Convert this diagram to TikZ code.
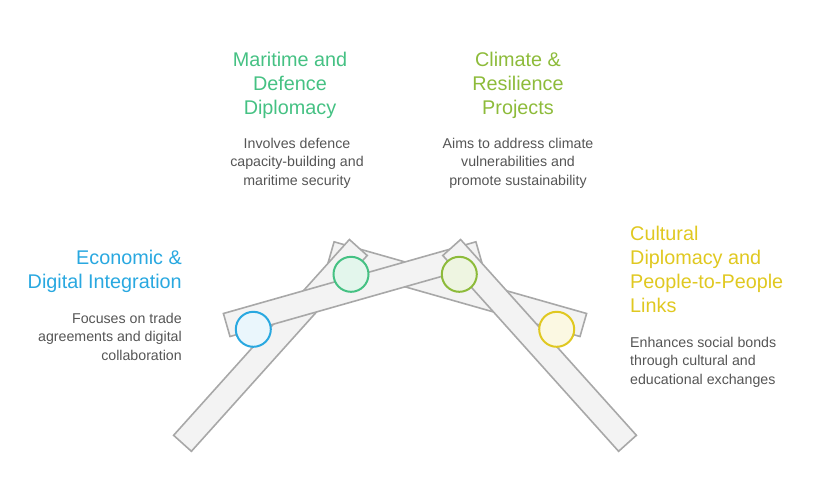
\documentclass[tikz,border=0pt]{standalone}
\usepackage{fontspec}
\setmainfont{Liberation Sans}
\begin{document}
\begin{tikzpicture}[x=1pt,y=-1pt,
  bar/.style={draw=barline,fill=barfill,line width=1.6pt,line join=miter},
  dot/.style={circle,minimum size=35pt,inner sep=0pt,line width=2pt},
  ttl/.style={font=\fontsize{19.8}{24}\selectfont,inner sep=0pt},
  bdy/.style={font=\fontsize{14.2}{18.3}\selectfont,text=bodygray,inner sep=0pt}]
\definecolor{barline}{HTML}{A8A8A8}
\definecolor{barfill}{HTML}{F3F3F3}
\definecolor{bodygray}{HTML}{555555}
\definecolor{cblue}{HTML}{29A8E0}
\definecolor{cgreen}{HTML}{45C183}
\definecolor{clime}{HTML}{8DBB3A}
\definecolor{cyellow}{HTML}{E0C820}
\useasboundingbox (0,0) rectangle (814,499);
% bars: B, A, C, D (back to front)
\draw[bar] (334.1,241.8) -- (327.5,264.8) -- (580.0,336.5) -- (586.6,313.5) -- cycle;
\draw[bar] (173.6,435.3) -- (191.4,451.3) -- (367.2,255.5) -- (349.4,239.5) -- cycle;
\draw[bar] (475.9,241.8) -- (482.5,264.8) -- (230.0,336.5) -- (223.4,313.5) -- cycle;
\draw[bar] (636.4,435.3) -- (618.6,451.3) -- (442.8,255.5) -- (460.6,239.5) -- cycle;
% circles
\node[dot,draw=cblue,fill=cblue!10] (c1) at (253.3,329.3) {};
\node[dot,draw=cgreen,fill=cgreen!15] (c2) at (351,274.3) {};
\node[dot,draw=clime,fill=clime!15] (c3) at (459.3,274.3) {};
\node[dot,draw=cyellow,fill=cyellow!13] (c4) at (556.7,329.3) {};
% texts
\node[ttl,text=cgreen,align=center,anchor=north] (t2) at (290,52) {Maritime and\\Defence\\Diplomacy};
\node[bdy,align=center,anchor=north] (b2) at (297,138) {Involves defence\\capacity-building and\\maritime security};
\node[ttl,text=clime,align=center,anchor=north] (t3) at (518,52) {Climate \&\\Resilience\\Projects};
\node[bdy,align=center,anchor=north] (b3) at (518,138) {Aims to address climate\\vulnerabilities and\\promote sustainability};
\node[ttl,text=cblue,align=right,anchor=north east] (t1) at (182,250) {Economic \&\\Digital Integration};
\node[bdy,align=right,anchor=north east] (b1) at (182,313) {Focuses on trade\\agreements and digital\\collaboration};
\node[ttl,text=cyellow,align=left,anchor=north west] (t4) at (630,226) {Cultural\\Diplomacy and\\People-to-People\\Links};
\node[bdy,align=left,anchor=north west] (b4) at (630,337) {Enhances social bonds\\through cultural and\\educational exchanges};
\end{tikzpicture}
\end{document}
